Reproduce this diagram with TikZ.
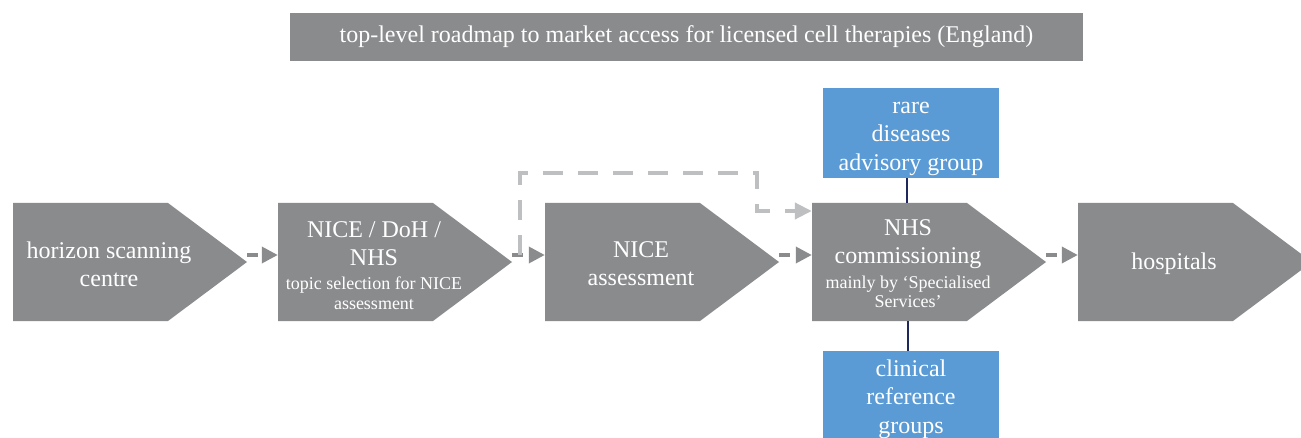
\documentclass[tikz,border=0pt]{standalone}
\usepackage{fontspec}
\setmainfont{Liberation Serif}
\usepackage{tikz}
\usetikzlibrary{arrows.meta}
\usetikzlibrary{positioning}
\definecolor{stagegray}{RGB}{138,139,141}
\definecolor{skipgray}{RGB}{190,191,193}
\definecolor{groupblue}{RGB}{91,155,213}
\definecolor{linknavy}{RGB}{30,40,92}
\newcommand{\bigtxt}{\fontsize{24}{28}\selectfont}
\newcommand{\grouptxt}{\fontsize{24}{28.5}\selectfont}
\newcommand{\smalltxt}{\fontsize{18}{20}\selectfont}
\tikzset{stage/.style={minimum width=234pt, minimum height=118pt, inner sep=0pt, path picture={\fill[stagegray] (path picture bounding box.north west) -- ([xshift=-79pt]path picture bounding box.north east) -- (path picture bounding box.east) -- ([xshift=-79pt]path picture bounding box.south east) -- (path picture bounding box.south west) -- cycle;}},
  stagetext/.style={text=white, align=center, font=\bigtxt, xshift=-21pt, yshift=-2pt},
  group/.style={fill=groupblue, minimum width=176pt, minimum height=90pt, inner sep=0pt},
  grouptext/.style={text=white, align=center, font=\grouptxt},
  flow/.style={draw=stagegray, line width=3.5pt, dash pattern=on 11pt off 6pt, -{Triangle[length=16pt,width=16pt]}},
  skip/.style={draw=skipgray, line width=4pt, dash pattern=on 20pt off 15pt, -{Triangle[length=17pt,width=16pt]}},
  link/.style={draw=linknavy, line width=2pt}}
\begin{document}
\begin{tikzpicture}[line join=miter]
%%
\useasboundingbox (0pt,0pt) rectangle (1301pt,437pt);
\node (title) at (686.5pt,400pt) [fill=stagegray, minimum width=793pt, minimum height=48pt, text=white, font=\bigtxt] {top-level roadmap to market access for licensed cell therapies (England)};
  \node (hsc) at (130pt,175pt) [stage, label={[stagetext]center:horizon scanning\\centre}] {};
  \node (nds) at (395pt,175pt) [stage, label={[stagetext, yshift=-2pt]center:NICE / DoH /\\NHS\\[-4pt]\smalltxt topic selection for NICE\\[-8pt]\smalltxt assessment}] {};
  \node (nas) at (662pt,175pt) [stage, label={[stagetext]center:NICE\\assessment}] {};
  \node (nhs) at (929pt,175pt) [stage, label={[stagetext]center:NHS\\commissioning\\[-3pt]\smalltxt mainly by `Specialised\\[-9pt]\smalltxt Services'}] {};
  \node (hos) at (1195pt,175pt) [stage, label={[stagetext]center:hospitals}] {};
  \node (rdag) at (911pt,304pt) [group, label={[grouptext, yshift=-5.5pt]center:rare\\diseases\\advisory group}] {};
  \node (crg) at (911pt,41pt) [group, label={[grouptext, yshift=-3pt]center:clinical\\reference\\groups}] {};
  \draw [flow] ([yshift=7pt]hsc.east) -- ([yshift=7pt]nds.west);
  \draw [flow] ([yshift=7pt]nds.east) -- ([yshift=7pt]nas.west);
  \draw [flow] ([yshift=7pt]nas.east) -- ([yshift=7pt]nhs.west);
  \draw [flow] ([yshift=7pt]nhs.east) -- ([yshift=7pt]hos.west);
  \draw [skip] ([xshift=8pt,yshift=7pt]nds.east) -- ++(0pt,82pt) -- ++(237pt,0pt) -- ++(0pt,-38pt) -- ([yshift=51pt]nhs.west);
  \draw [link] ([xshift=-4pt]rdag.south) -- ([xshift=-4pt]rdag.south |- nhs.north);
  \draw [link] ([xshift=-3pt]crg.north) -- ([xshift=-3pt]crg.north |- nhs.south);
%
\end{tikzpicture}
\end{document}
